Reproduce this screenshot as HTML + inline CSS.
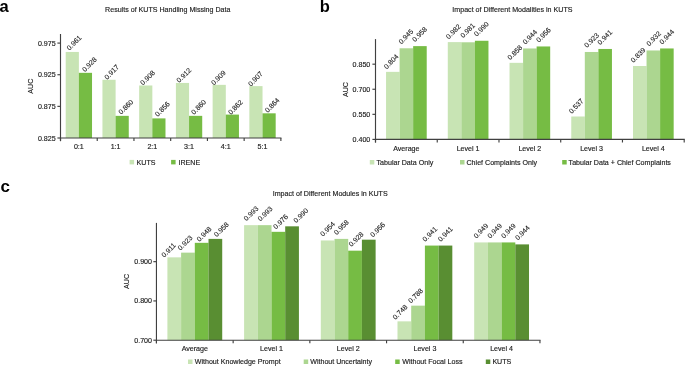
<!DOCTYPE html>
<html><head><meta charset="utf-8"><style>
html,body{margin:0;padding:0;background:#fff;width:685px;height:366px;overflow:hidden}
svg{display:block;will-change:transform;font-family:"Liberation Sans",sans-serif}
text{stroke:#222;stroke-width:0.15px}
text.r{stroke-width:0.12px}
text.b{stroke:none}
</style></head><body>
<svg width="685" height="366" viewBox="0 0 685 366">
<rect width="685" height="366" fill="#fff"/>
<rect x="65.71" y="51.95" width="13.17" height="86.05" fill="#c8e4b4"/>
<rect x="78.86" y="72.83" width="13.17" height="65.17" fill="#76bc44"/>
<rect x="102.44" y="79.79" width="13.17" height="58.21" fill="#c8e4b4"/>
<rect x="115.59" y="115.85" width="13.17" height="22.15" fill="#76bc44"/>
<rect x="139.17" y="85.48" width="13.17" height="52.52" fill="#c8e4b4"/>
<rect x="152.32" y="118.39" width="13.17" height="19.61" fill="#76bc44"/>
<rect x="175.90" y="82.95" width="13.17" height="55.05" fill="#c8e4b4"/>
<rect x="189.05" y="115.85" width="13.17" height="22.15" fill="#76bc44"/>
<rect x="212.63" y="84.85" width="13.17" height="53.15" fill="#c8e4b4"/>
<rect x="225.78" y="114.59" width="13.17" height="23.41" fill="#76bc44"/>
<rect x="249.36" y="86.12" width="13.17" height="51.88" fill="#c8e4b4"/>
<rect x="262.51" y="113.32" width="13.17" height="24.68" fill="#76bc44"/>
<text class="r" transform="translate(69.50,50.75) rotate(-45)" font-size="7" fill="#222222" text-anchor="start">0.961</text>
<text class="r" transform="translate(84.90,72.30) rotate(-45)" font-size="7" fill="#222222" text-anchor="start">0.928</text>
<text class="r" transform="translate(107.15,79.90) rotate(-45)" font-size="7" fill="#222222" text-anchor="start">0.917</text>
<text class="r" transform="translate(121.25,114.80) rotate(-45)" font-size="7" fill="#222222" text-anchor="start">0.860</text>
<text class="r" transform="translate(143.10,85.55) rotate(-45)" font-size="7" fill="#222222" text-anchor="start">0.908</text>
<text class="r" transform="translate(157.80,116.90) rotate(-45)" font-size="7" fill="#222222" text-anchor="start">0.856</text>
<text class="r" transform="translate(179.35,83.10) rotate(-45)" font-size="7" fill="#222222" text-anchor="start">0.912</text>
<text class="r" transform="translate(194.00,114.90) rotate(-45)" font-size="7" fill="#222222" text-anchor="start">0.860</text>
<text class="r" transform="translate(213.95,85.60) rotate(-45)" font-size="7" fill="#222222" text-anchor="start">0.909</text>
<text class="r" transform="translate(230.95,115.10) rotate(-45)" font-size="7" fill="#222222" text-anchor="start">0.862</text>
<text class="r" transform="translate(250.90,86.70) rotate(-45)" font-size="7" fill="#222222" text-anchor="start">0.907</text>
<text class="r" transform="translate(267.70,113.05) rotate(-45)" font-size="7" fill="#222222" text-anchor="start">0.864</text>
<line x1="60.50" y1="34.00" x2="60.50" y2="141.10" stroke="#404040" stroke-width="1.15"/>
<line x1="59.92" y1="138.00" x2="281.45" y2="138.00" stroke="#404040" stroke-width="1.15"/>
<line x1="60.50" y1="138.00" x2="60.50" y2="141.10" stroke="#404040" stroke-width="1.15"/>
<line x1="97.23" y1="138.00" x2="97.23" y2="141.10" stroke="#404040" stroke-width="1.15"/>
<line x1="133.96" y1="138.00" x2="133.96" y2="141.10" stroke="#404040" stroke-width="1.15"/>
<line x1="170.69" y1="138.00" x2="170.69" y2="141.10" stroke="#404040" stroke-width="1.15"/>
<line x1="207.42" y1="138.00" x2="207.42" y2="141.10" stroke="#404040" stroke-width="1.15"/>
<line x1="244.15" y1="138.00" x2="244.15" y2="141.10" stroke="#404040" stroke-width="1.15"/>
<line x1="280.88" y1="138.00" x2="280.88" y2="141.10" stroke="#404040" stroke-width="1.15"/>
<line x1="57.40" y1="138.00" x2="60.50" y2="138.00" stroke="#404040" stroke-width="1.15"/>
<text x="55.70" y="140.50" font-size="7.1" fill="#222222" text-anchor="end" >0.825</text>
<line x1="57.40" y1="106.36" x2="60.50" y2="106.36" stroke="#404040" stroke-width="1.15"/>
<text x="55.70" y="108.86" font-size="7.1" fill="#222222" text-anchor="end" >0.875</text>
<line x1="57.40" y1="74.73" x2="60.50" y2="74.73" stroke="#404040" stroke-width="1.15"/>
<text x="55.70" y="77.23" font-size="7.1" fill="#222222" text-anchor="end" >0.925</text>
<line x1="57.40" y1="43.09" x2="60.50" y2="43.09" stroke="#404040" stroke-width="1.15"/>
<text x="55.70" y="45.59" font-size="7.1" fill="#222222" text-anchor="end" >0.975</text>
<text x="78.86" y="149.20" font-size="7.1" fill="#222222" text-anchor="middle" >0:1</text>
<text x="115.59" y="149.20" font-size="7.1" fill="#222222" text-anchor="middle" >1:1</text>
<text x="152.32" y="149.20" font-size="7.1" fill="#222222" text-anchor="middle" >2:1</text>
<text x="189.05" y="149.20" font-size="7.1" fill="#222222" text-anchor="middle" >3:1</text>
<text x="225.78" y="149.20" font-size="7.1" fill="#222222" text-anchor="middle" >4:1</text>
<text x="262.51" y="149.20" font-size="7.1" fill="#222222" text-anchor="middle" >5:1</text>
<text transform="translate(32.70,86.20) rotate(-90)" font-size="7.1" fill="#222222" text-anchor="middle">AUC</text>
<text x="167.75" y="12.20" font-size="7.1" fill="#222222" text-anchor="middle" >Results of KUTS Handling Missing Data</text>
<rect x="129.60" y="159.90" width="4.50" height="4.50" fill="#c8e4b4"/>
<text x="136.60" y="164.60" font-size="7.1" fill="#222222" text-anchor="start" >KUTS</text>
<rect x="171.10" y="159.90" width="4.50" height="4.50" fill="#76bc44"/>
<text x="178.50" y="164.60" font-size="7.1" fill="#222222" text-anchor="start" >IRENE</text>
<rect x="386.05" y="71.86" width="13.57" height="67.54" fill="#c8e4b4"/>
<rect x="399.60" y="48.29" width="13.57" height="91.11" fill="#acd690"/>
<rect x="413.15" y="46.12" width="13.57" height="93.28" fill="#76bc44"/>
<rect x="447.79" y="42.11" width="13.57" height="97.29" fill="#c8e4b4"/>
<rect x="461.34" y="42.28" width="13.57" height="97.12" fill="#acd690"/>
<rect x="474.89" y="40.77" width="13.57" height="98.63" fill="#76bc44"/>
<rect x="509.53" y="62.84" width="13.57" height="76.56" fill="#c8e4b4"/>
<rect x="523.08" y="48.46" width="13.57" height="90.94" fill="#acd690"/>
<rect x="536.62" y="46.46" width="13.57" height="92.94" fill="#76bc44"/>
<rect x="571.26" y="116.50" width="13.57" height="22.90" fill="#c8e4b4"/>
<rect x="584.81" y="51.97" width="13.57" height="87.43" fill="#acd690"/>
<rect x="598.37" y="48.96" width="13.57" height="90.44" fill="#76bc44"/>
<rect x="633.00" y="66.01" width="13.57" height="73.39" fill="#c8e4b4"/>
<rect x="646.55" y="50.47" width="13.57" height="88.93" fill="#acd690"/>
<rect x="660.10" y="48.46" width="13.57" height="90.94" fill="#76bc44"/>
<text class="r" transform="translate(386.70,69.50) rotate(-45)" font-size="7" fill="#222222" text-anchor="start">0.804</text>
<text class="r" transform="translate(401.45,44.40) rotate(-45)" font-size="7" fill="#222222" text-anchor="start">0.945</text>
<text class="r" transform="translate(415.05,42.25) rotate(-45)" font-size="7" fill="#222222" text-anchor="start">0.958</text>
<text class="r" transform="translate(448.75,39.45) rotate(-45)" font-size="7" fill="#222222" text-anchor="start">0.982</text>
<text class="r" transform="translate(463.20,38.35) rotate(-45)" font-size="7" fill="#222222" text-anchor="start">0.981</text>
<text class="r" transform="translate(476.80,36.80) rotate(-45)" font-size="7" fill="#222222" text-anchor="start">0.990</text>
<text class="r" transform="translate(510.35,60.35) rotate(-45)" font-size="7" fill="#222222" text-anchor="start">0.858</text>
<text class="r" transform="translate(525.40,44.85) rotate(-45)" font-size="7" fill="#222222" text-anchor="start">0.944</text>
<text class="r" transform="translate(538.90,42.85) rotate(-45)" font-size="7" fill="#222222" text-anchor="start">0.956</text>
<text class="r" transform="translate(571.65,114.00) rotate(-45)" font-size="7" fill="#222222" text-anchor="start">0.537</text>
<text class="r" transform="translate(587.10,48.05) rotate(-45)" font-size="7" fill="#222222" text-anchor="start">0.923</text>
<text class="r" transform="translate(600.30,45.15) rotate(-45)" font-size="7" fill="#222222" text-anchor="start">0.941</text>
<text class="r" transform="translate(633.60,62.90) rotate(-45)" font-size="7" fill="#222222" text-anchor="start">0.839</text>
<text class="r" transform="translate(649.15,46.50) rotate(-45)" font-size="7" fill="#222222" text-anchor="start">0.932</text>
<text class="r" transform="translate(662.25,44.65) rotate(-45)" font-size="7" fill="#222222" text-anchor="start">0.944</text>
<line x1="375.50" y1="39.10" x2="375.50" y2="142.50" stroke="#404040" stroke-width="1.15"/>
<line x1="374.93" y1="139.40" x2="684.78" y2="139.40" stroke="#404040" stroke-width="1.15"/>
<line x1="375.50" y1="139.40" x2="375.50" y2="142.50" stroke="#404040" stroke-width="1.15"/>
<line x1="437.24" y1="139.40" x2="437.24" y2="142.50" stroke="#404040" stroke-width="1.15"/>
<line x1="498.98" y1="139.40" x2="498.98" y2="142.50" stroke="#404040" stroke-width="1.15"/>
<line x1="560.72" y1="139.40" x2="560.72" y2="142.50" stroke="#404040" stroke-width="1.15"/>
<line x1="622.46" y1="139.40" x2="622.46" y2="142.50" stroke="#404040" stroke-width="1.15"/>
<line x1="684.20" y1="139.40" x2="684.20" y2="142.50" stroke="#404040" stroke-width="1.15"/>
<line x1="372.40" y1="139.40" x2="375.50" y2="139.40" stroke="#404040" stroke-width="1.15"/>
<text x="370.30" y="141.90" font-size="7.1" fill="#222222" text-anchor="end" >0.400</text>
<line x1="372.40" y1="114.33" x2="375.50" y2="114.33" stroke="#404040" stroke-width="1.15"/>
<text x="370.30" y="116.83" font-size="7.1" fill="#222222" text-anchor="end" >0.550</text>
<line x1="372.40" y1="89.25" x2="375.50" y2="89.25" stroke="#404040" stroke-width="1.15"/>
<text x="370.30" y="91.75" font-size="7.1" fill="#222222" text-anchor="end" >0.700</text>
<line x1="372.40" y1="64.18" x2="375.50" y2="64.18" stroke="#404040" stroke-width="1.15"/>
<text x="370.30" y="66.68" font-size="7.1" fill="#222222" text-anchor="end" >0.850</text>
<text x="406.37" y="150.80" font-size="7.1" fill="#222222" text-anchor="middle" >Average</text>
<text x="468.11" y="150.80" font-size="7.1" fill="#222222" text-anchor="middle" >Level 1</text>
<text x="529.85" y="150.80" font-size="7.1" fill="#222222" text-anchor="middle" >Level 2</text>
<text x="591.59" y="150.80" font-size="7.1" fill="#222222" text-anchor="middle" >Level 3</text>
<text x="653.33" y="150.80" font-size="7.1" fill="#222222" text-anchor="middle" >Level 4</text>
<text transform="translate(347.50,89.60) rotate(-90)" font-size="7.1" fill="#222222" text-anchor="middle">AUC</text>
<text x="512.40" y="12.30" font-size="7.1" fill="#222222" text-anchor="middle" >Impact of Different Modalities in KUTS</text>
<rect x="369.80" y="160.00" width="4.50" height="4.50" fill="#c8e4b4"/>
<text x="376.50" y="164.70" font-size="7.1" fill="#222222" text-anchor="start" >Tabular Data Only</text>
<rect x="460.00" y="160.00" width="4.50" height="4.50" fill="#acd690"/>
<text x="466.50" y="164.70" font-size="7.1" fill="#222222" text-anchor="start" >Chief Complaints Only</text>
<rect x="562.20" y="160.00" width="4.50" height="4.50" fill="#76bc44"/>
<text x="568.60" y="164.70" font-size="7.1" fill="#222222" text-anchor="start" >Tabular Data + Chief Complaints</text>
<rect x="167.40" y="257.35" width="13.72" height="82.85" fill="#c8e4b4"/>
<rect x="181.10" y="252.64" width="13.72" height="87.56" fill="#acd690"/>
<rect x="194.80" y="242.82" width="13.72" height="97.38" fill="#76bc44"/>
<rect x="208.50" y="238.89" width="13.72" height="101.31" fill="#598e32"/>
<rect x="244.10" y="225.15" width="13.72" height="115.05" fill="#c8e4b4"/>
<rect x="257.80" y="225.15" width="13.72" height="115.05" fill="#acd690"/>
<rect x="271.50" y="231.82" width="13.72" height="108.38" fill="#76bc44"/>
<rect x="285.20" y="226.33" width="13.72" height="113.87" fill="#598e32"/>
<rect x="320.80" y="240.46" width="13.72" height="99.74" fill="#c8e4b4"/>
<rect x="334.50" y="238.89" width="13.72" height="101.31" fill="#acd690"/>
<rect x="348.20" y="250.67" width="13.72" height="89.53" fill="#76bc44"/>
<rect x="361.90" y="239.68" width="13.72" height="100.52" fill="#598e32"/>
<rect x="397.50" y="321.35" width="13.72" height="18.85" fill="#c8e4b4"/>
<rect x="411.20" y="305.65" width="13.72" height="34.55" fill="#acd690"/>
<rect x="424.90" y="245.57" width="13.72" height="94.63" fill="#76bc44"/>
<rect x="438.60" y="245.57" width="13.72" height="94.63" fill="#598e32"/>
<rect x="474.20" y="242.43" width="13.72" height="97.77" fill="#c8e4b4"/>
<rect x="487.90" y="242.43" width="13.72" height="97.77" fill="#acd690"/>
<rect x="501.60" y="242.43" width="13.72" height="97.77" fill="#76bc44"/>
<rect x="515.30" y="244.39" width="13.72" height="95.81" fill="#598e32"/>
<text class="r" transform="translate(164.25,257.80) rotate(-45)" font-size="7" fill="#222222" text-anchor="start">0.911</text>
<text class="r" transform="translate(180.55,250.75) rotate(-45)" font-size="7" fill="#222222" text-anchor="start">0.923</text>
<text class="r" transform="translate(199.55,242.00) rotate(-45)" font-size="7" fill="#222222" text-anchor="start">0.948</text>
<text class="r" transform="translate(216.75,237.35) rotate(-45)" font-size="7" fill="#222222" text-anchor="start">0.958</text>
<text class="r" transform="translate(246.50,221.30) rotate(-45)" font-size="7" fill="#222222" text-anchor="start">0.993</text>
<text class="r" transform="translate(260.55,221.55) rotate(-45)" font-size="7" fill="#222222" text-anchor="start">0.993</text>
<text class="r" transform="translate(276.05,229.60) rotate(-45)" font-size="7" fill="#222222" text-anchor="start">0.976</text>
<text class="r" transform="translate(296.35,223.30) rotate(-45)" font-size="7" fill="#222222" text-anchor="start">0.990</text>
<text class="r" transform="translate(323.05,236.80) rotate(-45)" font-size="7" fill="#222222" text-anchor="start">0.954</text>
<text class="r" transform="translate(336.85,235.15) rotate(-45)" font-size="7" fill="#222222" text-anchor="start">0.958</text>
<text class="r" transform="translate(351.60,247.10) rotate(-45)" font-size="7" fill="#222222" text-anchor="start">0.928</text>
<text class="r" transform="translate(373.00,237.55) rotate(-45)" font-size="7" fill="#222222" text-anchor="start">0.956</text>
<text class="r" transform="translate(395.60,320.00) rotate(-45)" font-size="7" fill="#222222" text-anchor="start">0.748</text>
<text class="r" transform="translate(411.00,303.60) rotate(-45)" font-size="7" fill="#222222" text-anchor="start">0.788</text>
<text class="r" transform="translate(425.25,242.00) rotate(-45)" font-size="7" fill="#222222" text-anchor="start">0.941</text>
<text class="r" transform="translate(440.75,241.90) rotate(-45)" font-size="7" fill="#222222" text-anchor="start">0.941</text>
<text class="r" transform="translate(476.40,238.70) rotate(-45)" font-size="7" fill="#222222" text-anchor="start">0.949</text>
<text class="r" transform="translate(490.20,238.70) rotate(-45)" font-size="7" fill="#222222" text-anchor="start">0.949</text>
<text class="r" transform="translate(503.90,238.70) rotate(-45)" font-size="7" fill="#222222" text-anchor="start">0.949</text>
<text class="r" transform="translate(517.95,240.60) rotate(-45)" font-size="7" fill="#222222" text-anchor="start">0.944</text>
<line x1="156.45" y1="222.90" x2="156.45" y2="343.30" stroke="#404040" stroke-width="1.15"/>
<line x1="155.88" y1="340.20" x2="540.53" y2="340.20" stroke="#404040" stroke-width="1.15"/>
<line x1="156.45" y1="340.20" x2="156.45" y2="343.30" stroke="#404040" stroke-width="1.15"/>
<line x1="233.15" y1="340.20" x2="233.15" y2="343.30" stroke="#404040" stroke-width="1.15"/>
<line x1="309.85" y1="340.20" x2="309.85" y2="343.30" stroke="#404040" stroke-width="1.15"/>
<line x1="386.55" y1="340.20" x2="386.55" y2="343.30" stroke="#404040" stroke-width="1.15"/>
<line x1="463.25" y1="340.20" x2="463.25" y2="343.30" stroke="#404040" stroke-width="1.15"/>
<line x1="539.95" y1="340.20" x2="539.95" y2="343.30" stroke="#404040" stroke-width="1.15"/>
<line x1="153.35" y1="340.20" x2="156.45" y2="340.20" stroke="#404040" stroke-width="1.15"/>
<text x="152.00" y="342.70" font-size="7.1" fill="#222222" text-anchor="end" >0.700</text>
<line x1="153.35" y1="300.93" x2="156.45" y2="300.93" stroke="#404040" stroke-width="1.15"/>
<text x="152.00" y="303.43" font-size="7.1" fill="#222222" text-anchor="end" >0.800</text>
<line x1="153.35" y1="261.67" x2="156.45" y2="261.67" stroke="#404040" stroke-width="1.15"/>
<text x="152.00" y="264.17" font-size="7.1" fill="#222222" text-anchor="end" >0.900</text>
<text x="194.80" y="351.20" font-size="7.1" fill="#222222" text-anchor="middle" >Average</text>
<text x="271.50" y="351.20" font-size="7.1" fill="#222222" text-anchor="middle" >Level 1</text>
<text x="348.20" y="351.20" font-size="7.1" fill="#222222" text-anchor="middle" >Level 2</text>
<text x="424.90" y="351.20" font-size="7.1" fill="#222222" text-anchor="middle" >Level 3</text>
<text x="501.60" y="351.20" font-size="7.1" fill="#222222" text-anchor="middle" >Level 4</text>
<text transform="translate(128.70,281.40) rotate(-90)" font-size="7.1" fill="#222222" text-anchor="middle">AUC</text>
<text x="330.20" y="196.10" font-size="7.1" fill="#222222" text-anchor="middle" >Impact of Different Modules in KUTS</text>
<rect x="188.00" y="359.50" width="4.50" height="4.50" fill="#c8e4b4"/>
<text x="194.70" y="364.20" font-size="7.1" fill="#222222" text-anchor="start" >Without Knowledge Prompt</text>
<rect x="303.70" y="359.50" width="4.50" height="4.50" fill="#acd690"/>
<text x="310.20" y="364.20" font-size="7.1" fill="#222222" text-anchor="start" >Without Uncertainty</text>
<rect x="395.20" y="359.50" width="4.50" height="4.50" fill="#76bc44"/>
<text x="402.20" y="364.20" font-size="7.1" fill="#222222" text-anchor="start" >Without Focal Loss</text>
<rect x="485.80" y="359.50" width="4.50" height="4.50" fill="#598e32"/>
<text x="492.40" y="364.20" font-size="7.1" fill="#222222" text-anchor="start" >KUTS</text>
<text x="-0.6" y="12" font-size="16.5" font-weight="bold" fill="#000" class="b">a</text>
<text x="319.8" y="12" font-size="16.5" font-weight="bold" fill="#000" class="b">b</text>
<text x="0.6" y="192" font-size="17" font-weight="bold" fill="#000" class="b">c</text>
</svg>
</body></html>
